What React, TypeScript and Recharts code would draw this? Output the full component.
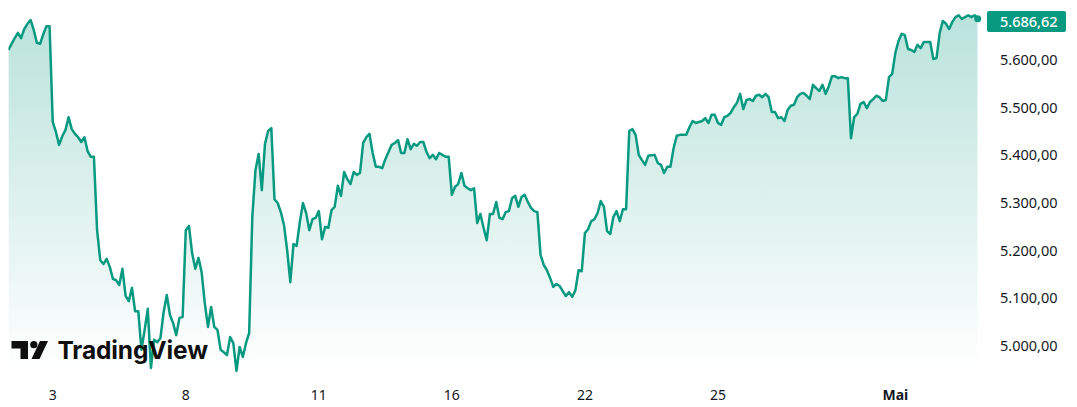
import React from "react";
import { AreaChart, Area, XAxis, YAxis, ReferenceDot } from "recharts";

// Closing prices, one per 30-minute bar
const prices = [
  5621,5634,5646,5657,5646,5665,5676,5684,5663,5636,5634,5654,5671,5671,
  5470,5449,5422,5440,5453,5480,5455,5445,5438,5428,5438,5409,5397,5397,
  5243,5180,5172,5183,5166,5141,5138,5128,5162,5105,5094,5122,5073,5073,
  4992,5033,5078,4954,5013,5008,5017,5071,5107,5065,5048,5023,5059,5061,
  5243,5252,5195,5162,5185,5155,5090,5040,5082,5040,5034,4992,4987,4981,
  5019,5006,4948,4998,4977,5006,5027,5271,5369,5403,5327,5424,5451,5457,
  5308,5300,5281,5254,5201,5134,5214,5210,5260,5300,5279,5243,5266,5269,
  5283,5224,5250,5248,5285,5292,5336,5315,5365,5350,5340,5365,5359,5363,
  5426,5438,5445,5405,5376,5376,5373,5392,5407,5422,5426,5432,5405,5405,
  5434,5413,5424,5420,5428,5428,5407,5394,5401,5392,5405,5401,5397,5397,
  5317,5334,5340,5363,5336,5331,5327,5331,5258,5277,5248,5222,5277,5277,
  5302,5269,5266,5281,5283,5310,5315,5292,5313,5317,5302,5290,5283,5281,
  5191,5170,5159,5143,5124,5130,5126,5115,5105,5113,5103,5117,5159,5157,
  5237,5245,5262,5266,5279,5304,5292,5241,5235,5271,5283,5262,5287,5287,
  5451,5455,5443,5401,5390,5380,5399,5400,5401,5384,5380,5363,5376,5376,
  5415,5441,5443,5443,5443,5459,5472,5468,5470,5472,5478,5468,5485,5485,
  5468,5464,5480,5483,5489,5501,5510,5529,5497,5516,5518,5514,5525,5527,
  5522,5529,5522,5491,5491,5478,5480,5472,5495,5504,5506,5522,5529,5531,
  5525,5518,5548,5541,5535,5548,5529,5545,5566,5566,5562,5564,5562,5562,
  5436,5480,5487,5508,5512,5499,5512,5518,5525,5522,5514,5516,5564,5571,
  5615,5640,5655,5652,5623,5621,5617,5632,5625,5638,5638,5638,5602,5604,
  5657,5682,5676,5665,5680,5690,5694,5686,5690,5694,5690,5694,5686.62,
];
const priceTicks = [5000, 5100, 5200, 5300, 5400, 5500, 5600];
const lastPrice = 5686.62;
const dateTicks = [14, 56, 98, 140, 182, 224, 280];
const dateLabels = ["3", "8", "11", "16", "22", "25", "Mai"];

const GREEN = "#089981";
const FONT = "'Noto Sans', sans-serif";
const data = prices.map((price, bar) => ({ bar, price }));
const fmt = (v: number) =>
  v.toLocaleString("de-DE", { minimumFractionDigits: 2, maximumFractionDigits: 2 });

const PriceTick = (props: any) => {
  const { x, y, payload } = props;
  const isLast = payload.value === lastPrice;
  if (isLast) {
    return (
      <g>
        <rect x={x + 3.3} y={y - 7.7} width={79} height={21} rx={2} fill={GREEN} />
        <text x={x + 16.3} y={y + 7.8} fontFamily={FONT} fontSize={14.5} fontWeight={500} fill="#fff">{fmt(payload.value)}</text>
      </g>
    );
  }
  return (
    <text x={x + 16.3} y={y + 5} fontFamily={FONT} fontSize={14.5} fill="#131722">{fmt(payload.value)}</text>
  );
};

const DateTick = (props: any) => {
  const { x, y, payload } = props;
  const label = dateLabels[dateTicks.indexOf(payload.value)];
  return (
    <text x={x} y={y + 20.5} textAnchor="middle" fontFamily={FONT} fontSize={14} fontWeight={label === "Mai" ? 700 : 400} fill="#131722">{label}</text>
  );
};

export default function App() {
  return (
    <div style={{ position: "absolute", left: 0, top: 0, width: 1077, height: 407, background: "#fff", overflow: "hidden" }}>
      <AreaChart width={1077} height={407} data={data} margin={{ top: 0, right: 0, bottom: 0, left: 8.4 }}>
        <defs>
          <linearGradient id="fillArea" x1="0" y1="0" x2="0" y2="1">
            <stop offset="0%" stopColor={GREEN} stopOpacity={0.28} />
            <stop offset="100%" stopColor={GREEN} stopOpacity={0} />
          </linearGradient>
        </defs>
        <XAxis dataKey="bar" type="number" domain={[0, 306]} ticks={dateTicks} tick={<DateTick />} axisLine={false} tickLine={false} height={34} interval={0} tickMargin={0} allowDataOverflow />
        <YAxis orientation="right" type="number" domain={[4943.4, 5725.9]} ticks={[...priceTicks, lastPrice]} tick={<PriceTick />} axisLine={false} tickLine={false} width={99.3} interval={0} tickMargin={0} allowDataOverflow />
        <Area type="linear" dataKey="price" stroke={GREEN} strokeWidth={2.5} fill="url(#fillArea)" fillOpacity={1} isAnimationActive={false} dot={false} activeDot={false} strokeLinejoin="round" />
        <ReferenceDot x={306} y={lastPrice} r={3.5} fill={GREEN} stroke="none" ifOverflow="visible" />
      </AreaChart>
      <svg width={1077} height={407} style={{ position: "absolute", left: 0, top: 0, pointerEvents: "none" }}>
        <path d="M11.5 341H28V359H20.5V348.5H11.5Z M48 341L39.5 359H31.5L40 341Z" fill="#0f0f0f" />
        <circle cx={33.8} cy={344.7} r={3.6} fill="#0f0f0f" />
        <text x={57.5} y={358.7} fontFamily="'Inter', sans-serif" fontSize={24.5} fontWeight={700} fill="#0f0f0f" textLength={150.5} lengthAdjust="spacing">TradingView</text>
      </svg>
    </div>
  );
}
